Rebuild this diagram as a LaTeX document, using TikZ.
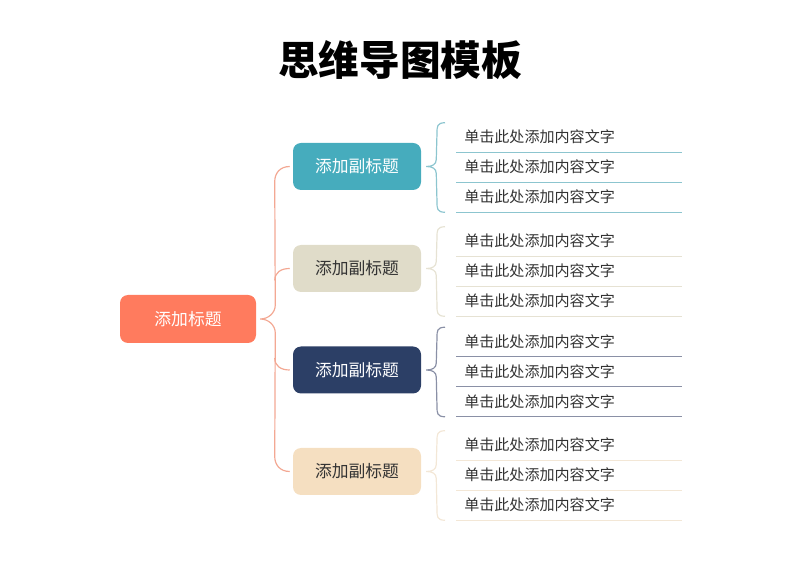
\documentclass[tikz,border=0pt]{standalone}
\usepackage{fontspec}
\setmainfont{Noto Sans CJK SC}
\usetikzlibrary{calc}
\definecolor{cmain}{HTML}{FF7B5E}
\definecolor{cmainl}{HTML}{F3A893}
\definecolor{cA}{HTML}{46ACBD}
\definecolor{cAl}{HTML}{8CC5CF}
\definecolor{cB}{HTML}{E0DCC9}
\definecolor{cBl}{HTML}{E6E2D3}
\definecolor{cC}{HTML}{2C3F66}
\definecolor{cCl}{HTML}{8A90A6}
\definecolor{cD}{HTML}{F5DFC1}
\definecolor{cDl}{HTML}{F3E7D6}
\definecolor{ctext}{HTML}{333333}
\newcommand\grpbrace[4]{%
  \coordinate (tip) at ($(#1.east)+(5,0)$);
  \coordinate (ba) at ($(#2.north west)+(-11,1)$);
  \coordinate (bb) at ($(#3.south west)+(-11,0)$);
  \draw[#4,line width=0.9pt] (ba) .. controls +(-8,0) and +(0,-6) .. ($(ba)+(-8,10)$)
    -- ($(tip)+(10,-7)$) .. controls +(0,5) and +(6,0) .. (tip)
    .. controls +(6,0) and +(0,-5) .. ($(tip)+(10,7)$)
    -- ($(bb)+(-8,-10)$) .. controls +(0,6) and +(-8,0) .. (bb);
}
\begin{document}
\begin{tikzpicture}[x=0.75pt,y=-0.75pt,
  mainbox/.style={fill=cmain,text=white,rounded corners=6pt,minimum width=102pt,minimum height=36pt,font=\fontsize{12.6pt}{14pt}\selectfont,inner sep=0pt},
  subbox/.style={rounded corners=6pt,minimum width=96pt,minimum height=35.25pt,font=\fontsize{12.6pt}{14pt}\selectfont,inner sep=0pt},
  item/.style={anchor=west,minimum width=168.75pt,minimum height=22.5pt,text width=156.75pt,inner xsep=6pt,inner ysep=0pt,align=left,text=ctext,font=\fontsize{11.3pt}{13pt}\selectfont},
]
\useasboundingbox (0,0) rectangle (800,566);
\node[font=\bfseries\fontsize{30.5pt}{34pt}\selectfont] (title) at (400,60) {思维导图模板};
\node[mainbox] (m) at (188,319) {添加标题};
\node[subbox,fill=cA,text=white] (s1) at (357,166.5) {添加副标题};
\node[subbox,fill=cB,text=ctext] (s2) at (357,268.5) {添加副标题};
\node[subbox,fill=cC,text=white] (s3) at (357,370) {添加副标题};
\node[subbox,fill=cD,text=ctext] (s4) at (357,471.5) {添加副标题};
% items
\foreach \g/\ya/\c in {1/137/cAl,2/241/cBl,3/341.5/cCl,4/445/cDl}{
  \foreach \k in {1,2,3}{
    \node[item] (i\g\k) at (456,{\ya+30*(\k-1)}) {单击此处添加内容文字};
    \draw[\c,line width=0.9pt] (i\g\k.south west) -- (i\g\k.south east);
  }
}
\grpbrace{s1}{i11}{i13}{cAl}
\grpbrace{s2}{i21}{i23}{cBl}
\grpbrace{s3}{i31}{i33}{cCl}
\grpbrace{s4}{i41}{i43}{cDl}
% main brace
\coordinate (mt) at ($(m.east)+(4,0)$);
\coordinate (e1) at ($(s1.west)+(-3,0)$);
\coordinate (e2) at ($(s2.west)+(-3,0)$);
\coordinate (e3) at ($(s3.west)+(-3,0)$);
\coordinate (e4) at ($(s4.west)+(-3,0)$);
\draw[cmainl,line width=0.9pt] (e1) .. controls +(-10,0) and +(0,-8) .. ($(e1)+(-15,15)$)
  -- ($(mt)+(15,-14)$) .. controls +(0,8) and +(8,0) .. (mt)
  .. controls +(8,0) and +(0,-8) .. ($(mt)+(15,14)$)
  -- ($(e4)+(-15,-15)$) .. controls +(0,8) and +(-10,0) .. (e4);
\draw[cmainl,line width=0.9pt] ($(e2)+(-15,12)$) .. controls +(0,-8) and +(-9,0) .. (e2);
\draw[cmainl,line width=0.9pt] ($(e3)+(-15,-12)$) .. controls +(0,8) and +(-9,0) .. (e3);
\end{tikzpicture}
\end{document}
